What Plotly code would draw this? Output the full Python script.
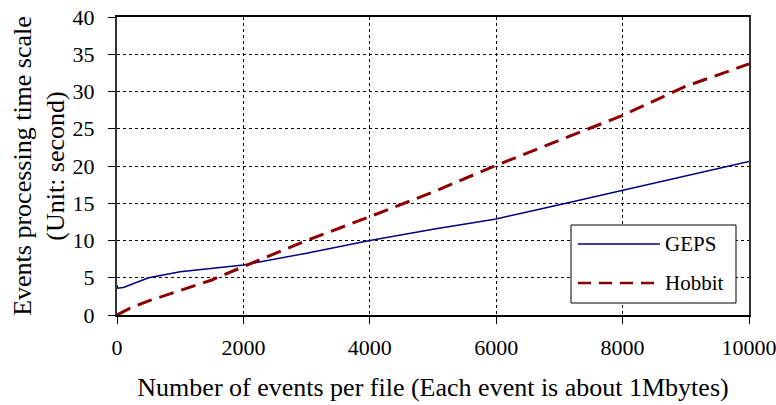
import plotly.graph_objects as go

# Data
geps_x = [0, 10, 100, 200, 500, 1000, 2000, 3000, 4000, 5000, 6000, 7000, 8000, 9000, 10000]
geps_y = [4.0, 3.6, 3.7, 4.0, 5.0, 5.8, 6.7, 8.3, 10.0, 11.5, 12.9, 14.8, 16.7, 18.6, 20.6]

hobbit_x = [0, 200, 500, 1000, 1500, 2000, 3000, 4000, 5000, 6000, 7000, 8000, 9000, 10000]
hobbit_y = [0.0, 0.9, 1.9, 3.3, 4.7, 6.5, 10.0, 13.2, 16.5, 20.1, 23.5, 26.8, 30.7, 33.7]

series_names = ["GEPS", "Hobbit"]
x_title = "Number of events per file (Each event is about 1Mbytes)"
y_title = "Events processing time scale<br>(Unit: second)"

GEPS_COLOR = "#000080"
HOBBIT_COLOR = "#8B0000"
FONT = "Liberation Serif"

fig = go.Figure()
fig.add_trace(go.Scatter(x=geps_x, y=geps_y, name=series_names[0], mode="lines",
                         line=dict(color=GEPS_COLOR, width=1.5), showlegend=False))
fig.add_trace(go.Scatter(x=hobbit_x, y=hobbit_y, name=series_names[1], mode="lines",
                         line=dict(color=HOBBIT_COLOR, width=3, dash="15px,8px"), showlegend=False))

fig.update_layout(
    width=776, height=405,
    margin=dict(l=117, r=27, t=17, b=90, autoexpand=False),
    paper_bgcolor="white", plot_bgcolor="white",
    font=dict(family=FONT, size=20, color="black"),
)
fig.update_xaxes(
    range=[0, 10000], tickmode="linear", tick0=0, dtick=2000, tickformat="d",
    showgrid=True, gridcolor="black", gridwidth=1, griddash="dot",
    showline=True, linecolor="black", linewidth=2, mirror=True,
    ticks="outside", ticklen=7, tickcolor="black", ticklabelstandoff=5,
    ticklabeloverflow="allow",
    tickfont=dict(size=22, family=FONT), zeroline=False, automargin=False,
    title=dict(text=x_title, font=dict(size=26, family=FONT), standoff=18),
)
fig.update_yaxes(
    range=[0, 40], tickmode="linear", tick0=0, dtick=5,
    showgrid=True, gridcolor="black", gridwidth=1, griddash="dot",
    showline=True, linecolor="#333333", linewidth=2, mirror=True,
    ticks="outside", ticklen=7, tickcolor="black", ticklabelstandoff=9,
    ticklabeloverflow="allow",
    tickfont=dict(size=22, family=FONT), zeroline=False, automargin=False,
    title=dict(text=y_title, font=dict(size=26, family=FONT), standoff=0),
)

# Custom legend (box, sample lines, labels) in paper coordinates
def px_to_paper_x(px):
    return (px - 117) / 632.0

def py_to_paper_y(py):
    return (315 - py) / 298.0

fig.add_shape(type="rect", xref="paper", yref="paper",
              x0=px_to_paper_x(571), x1=px_to_paper_x(736),
              y0=py_to_paper_y(303), y1=py_to_paper_y(225),
              line=dict(color="black", width=1), fillcolor="white", layer="above")
fig.add_shape(type="line", xref="paper", yref="paper",
              x0=px_to_paper_x(578), x1=px_to_paper_x(660),
              y0=py_to_paper_y(244), y1=py_to_paper_y(244),
              line=dict(color=GEPS_COLOR, width=1.5))
fig.add_shape(type="line", xref="paper", yref="paper",
              x0=px_to_paper_x(578), x1=px_to_paper_x(660),
              y0=py_to_paper_y(283), y1=py_to_paper_y(283),
              line=dict(color=HOBBIT_COLOR, width=2.5, dash="13px,8px"))
for name, py in zip(series_names, [244, 283]):
    fig.add_annotation(text=name, xref="paper", yref="paper",
                       x=px_to_paper_x(663), y=py_to_paper_y(py),
                       xanchor="left", yanchor="middle", showarrow=False,
                       font=dict(size=21, family=FONT, color="black"))

fig.write_html("out.html", config={"displayModeBar": False},
               post_script="document.body.style.margin='0px';")
